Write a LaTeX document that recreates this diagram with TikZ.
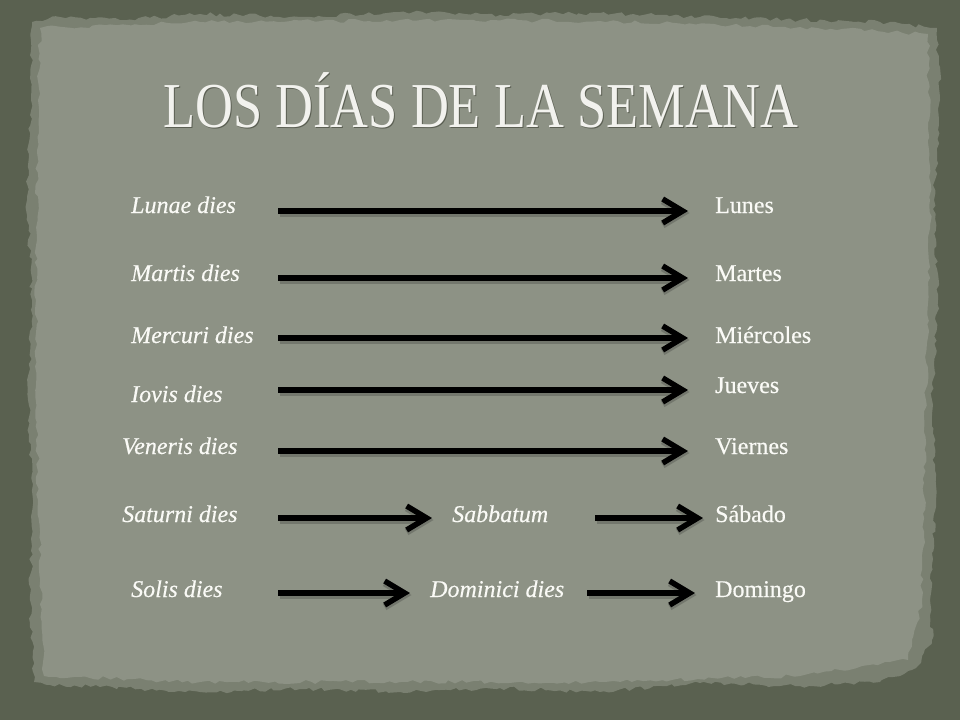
\documentclass[tikz,border=0pt]{standalone}
\usepackage{fontspec}
\setmainfont{Liberation Serif}
\newfontfamily\labelfont[FakeBold=0.35]{Liberation Serif}
\newfontfamily\titlefont{Liberation Serif}
\usetikzlibrary{arrows.meta,decorations.pathmorphing}
\definecolor{outerc}{RGB}{90,97,80}
\definecolor{paperc}{RGB}{141,146,133}
\definecolor{paperedge}{RGB}{122,128,113}
\definecolor{labelc}{RGB}{250,250,246}
\definecolor{titlec}{RGB}{242,242,238}
\definecolor{titleshadow}{RGB}{70,74,62}
\begin{document}
\begin{tikzpicture}[x=1pt,y=-1pt,
  lat/.style={text=labelc,font=\fontsize{24}{26}\labelfont\itshape,inner sep=0pt,anchor=base west},
  esp/.style={text=labelc,font=\fontsize{24}{26}\labelfont,inner sep=0pt,anchor=base west},
  titlestyle/.style={font=\fontsize{64}{70}\titlefont,inner sep=0pt,anchor=base,xscale=0.82},
  arr/.style={line width=6.5pt,black,-{Straight Barb[length=20pt,width=24pt,line width=5.5pt]}},
  arrshadow/.style={line width=8pt,black,opacity=0.18,-{Straight Barb[length=20pt,width=24pt,line width=7pt]}},
]
\pgfmathsetseed{7}
% background
\fill[outerc] (0,0) rectangle (960,720);
\useasboundingbox (0,0) rectangle (960,720);
% parchment
\fill[paperedge, decorate, decoration={random steps,segment length=5pt,amplitude=2pt}]
  (32,22) -- (60,17) -- (120,20) -- (200,14) -- (300,17) -- (400,12) -- (500,15) -- (600,13)
  -- (700,17) -- (800,20) -- (880,22) -- (937,28) -- (940,100) -- (934,200) -- (938,300)
  -- (932,400) -- (936,500) -- (930,600) -- (932,640) -- (916,668) -- (880,682) -- (800,686)
  -- (700,683) -- (600,692) -- (500,688) -- (400,692) -- (300,689) -- (200,692) -- (100,687)
  -- (50,685) -- (34,682) -- (30,600) -- (33,500) -- (28,400) -- (32,300) -- (27,200) -- (31,100) -- cycle;
\fill[paperc, decorate, decoration={random steps,segment length=6pt,amplitude=2pt}]
  (40,28) -- (200,22) -- (400,20) -- (600,21) -- (800,27) -- (928,34) -- (930,200) -- (926,400)
  -- (922,600) -- (908,660) -- (800,676) -- (600,682) -- (400,682) -- (200,682) -- (44,676)
  -- (38,500) -- (36,300) -- (38,100) -- cycle;

% title (dark shadow behind, then light text)
\node[titlestyle,text=titleshadow,opacity=0.7] at (482,128) {LOS DÍAS DE LA SEMANA};
\node[titlestyle,text=titlec] (title) at (481,127) {LOS DÍAS DE LA SEMANA};

% labels
\node[lat] (lunae) at (131,213) {Lunae dies};
\node[lat] (martis) at (131,281) {Martis dies};
\node[lat] (mercuri) at (131,343) {Mercuri dies};
\node[lat] (iovis) at (131,402) {Iovis dies};
\node[lat] (veneris) at (122,454) {Veneris dies};
\node[lat] (saturni) at (122,522) {Saturni dies};
\node[lat] (solis) at (131,597) {Solis dies};
\node[lat] (sabbatum) at (452,522) {Sabbatum};
\node[lat] (dominici) at (430,597) {Dominici dies};

\node[esp] (lunes) at (715,213) {Lunes};
\node[esp] (martes) at (715,281) {Martes};
\node[esp] (miercoles) at (715,343) {Miércoles};
\node[esp] (jueves) at (715,393) {Jueves};
\node[esp] (viernes) at (715,454) {Viernes};
\node[esp] (sabado) at (715,522) {Sábado};
\node[esp] (domingo) at (715,597) {Domingo};

% arrow end points
\coordinate (s1) at (278,211); \coordinate (e1) at (688,211);
\coordinate (s2) at (278,278); \coordinate (e2) at (688,278);
\coordinate (s3) at (278,338); \coordinate (e3) at (688,338);
\coordinate (s4) at (278,390); \coordinate (e4) at (688,390);
\coordinate (s5) at (278,451); \coordinate (e5) at (688,451);
\coordinate (s6) at (278,518); \coordinate (e6) at (432,518);
\coordinate (s7) at (595,518); \coordinate (e7) at (703,518);
\coordinate (s8) at (278,593); \coordinate (e8) at (410,593);
\coordinate (s9) at (587,593); \coordinate (e9) at (695,593);

\foreach \i in {1,...,9}{
  \draw[arrshadow,transform canvas={shift={(1.5pt,-2pt)}}] (s\i) -- (e\i);
  \draw[arr] (s\i) -- (e\i);
}
\end{tikzpicture}
\end{document}
